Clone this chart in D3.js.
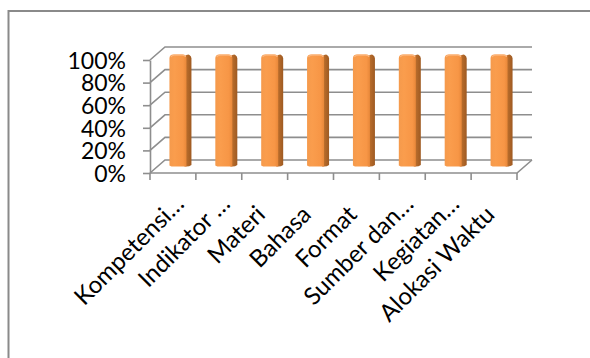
<!DOCTYPE html>
<html><head><meta charset="utf-8">
<script src="https://cdn.jsdelivr.net/npm/d3@7"></script>
<style>
html,body{margin:0;padding:0;background:#fff;}
svg{display:block;}
text{font-family:Lato,"Open Sans",sans-serif;fill:#000;}
</style></head>
<body>
<svg id="c" width="590" height="358"></svg>
<script>
const categories = ["Kompetensi…","Indikator …","Materi","Bahasa","Format","Sumber dan…","Kegiatan…","Alokasi Waktu"];
const values = [1,1,1,1,1,1,1,1];
const yTicks = [0,0.2,0.4,0.6,0.8,1];

const svg = d3.select("#c");
const W = 590, H = 358;
const grid = "#8e8e8e";
const depth = {dx:15, dy:-13};
const x = d3.scaleBand().domain(categories).range([150,517]);
const y = d3.scaleLinear().domain([0,1]).range([173,60]);
const fsY = 23, fsX = 24;

// outer frame (top + left visible)
svg.append("path").attr("d",`M8.5,${H} L8.5,11 L${W},11`).attr("fill","none").attr("stroke","#8a8a8a").attr("stroke-width",2);

const defs = svg.append("defs");
const gF = defs.append("linearGradient").attr("id","gFront").attr("x1","0").attr("x2","1").attr("y1","0").attr("y2","0");
gF.append("stop").attr("offset","0").attr("stop-color","#f59a4c");
gF.append("stop").attr("offset","0.3").attr("stop-color","#fa9d4d");
gF.append("stop").attr("offset","0.8").attr("stop-color","#f79646");
gF.append("stop").attr("offset","1").attr("stop-color","#e8883a");
const gS = defs.append("linearGradient").attr("id","gSide").attr("x1","0").attr("x2","1").attr("y1","0").attr("y2","0");
gS.append("stop").attr("offset","0").attr("stop-color","#c4742f");
gS.append("stop").attr("offset","1").attr("stop-color","#9e5a22");

const x0 = x.range()[0], x1 = x.range()[1];
const g = svg.append("g");
// back wall gridlines + left wall diagonals
yTicks.forEach(t=>{
  const yy = y(t);
  g.append("path").attr("d",`M${x0},${yy} L${x0+depth.dx},${yy+depth.dy} L${x1+depth.dx},${yy+depth.dy}`)
   .attr("fill","none").attr("stroke",grid).attr("stroke-width",1.6);
});
// floor front edge and right diagonal
g.append("path").attr("d",`M${x0},${y(0)} L${x1},${y(0)} L${x1+depth.dx},${y(0)+depth.dy}`)
  .attr("fill","none").attr("stroke",grid).attr("stroke-width",1.6);

// y axis
const yAxis = d3.axisLeft(y).tickValues(yTicks).tickFormat(d3.format(".0%")).tickSize(7).tickSizeOuter(0).tickPadding(17);
const ya = svg.append("g").attr("transform",`translate(${x0},0)`).call(yAxis);
ya.select(".domain").attr("stroke",grid).attr("stroke-width",1.6);
ya.selectAll(".tick line").attr("stroke",grid).attr("stroke-width",1.6);
ya.selectAll("text").style("font-size",fsY+"px").attr("dy","0.36em").style("fill","#000");

// x ticks at band boundaries
const bounds = categories.map(c=>x(c)).concat([x1]);
svg.append("g").selectAll("line").data(bounds).join("line")
  .attr("x1",d=>d).attr("x2",d=>d).attr("y1",y(0)).attr("y2",y(0)+7)
  .attr("stroke",grid).attr("stroke-width",1.6);

// x labels
const xAxis = d3.axisBottom(x).tickSize(0).tickSizeOuter(0);
const xa = svg.append("g").attr("transform",`translate(0,${y(0)})`).call(xAxis);
xa.select(".domain").remove();
xa.selectAll("text").style("font-size",fsX+"px").style("fill","#000")
  .attr("text-anchor","end")
  .attr("y",0).attr("dy",0)
  .attr("transform","translate(2,43) rotate(-45)")
  .attr("dx",d=>d.endsWith("…")?"15":"0");

// bars
const bw = 22, sideW = 5;
const bars = svg.append("g");
categories.forEach((c,i)=>{
  const cx = x(c)+x.bandwidth()/2 + depth.dx/2;
  const yb = y(0)+depth.dy/2;
  const yt = y(values[i])+depth.dy/2 + 1;
  const l = cx-bw/2, r = cx+bw/2, fr = r-sideW;
  const rr = 4;
  // side
  bars.append("path").attr("d",`M${fr-2},${yb} L${fr-2},${yt+2} Q${fr},${yt} ${fr+2},${yt} L${r-2},${yt+0.5} Q${r},${yt+1.5} ${r},${yt+4} L${r},${yb-1.5} Q${r-2},${yb} ${fr},${yb} Z`)
    .attr("fill","url(#gSide)");
  // front
  bars.append("path").attr("d",`M${l},${yb-1} L${l},${yt+rr} Q${l},${yt} ${l+rr},${yt} L${fr-rr},${yt} Q${fr},${yt} ${fr},${yt+rr} L${fr},${yb} L${l+2},${yb} Z`)
    .attr("fill","url(#gFront)");
  // top highlight
  bars.append("path").attr("d",`M${l+1.5},${yt+2.5} Q${l+2},${yt+0.8} ${l+rr+1},${yt+0.6} L${fr-rr},${yt+0.6} Q${fr-1},${yt+0.8} ${fr-1},${yt+2.5}`)
    .attr("fill","none").attr("stroke","#fbb57c").attr("stroke-width",1.2);
});
</script>
</body></html>
